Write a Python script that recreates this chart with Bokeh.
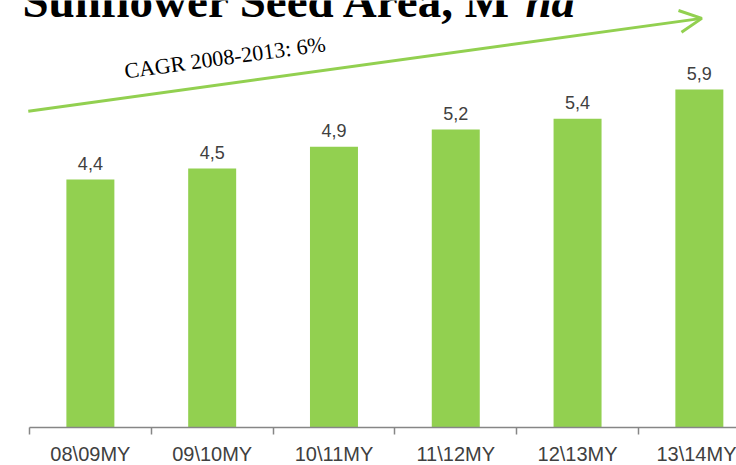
from bokeh.plotting import figure
from bokeh.models import Range1d, FixedTicker, Label, Arrow, OpenHead
from bokeh.core.properties import value
from bokeh.embed import file_html
from bokeh.resources import INLINE

# ---- data ----
categories = ["08\\09MY", "09\\10MY", "10\\11MY", "11\\12MY", "12\\13MY", "13\\14MY"]
area = [4.33, 4.52, 4.90, 5.20, 5.39, 5.90]
value_labels = ["4,4", "4,5", "4,9", "5,2", "5,4", "5,9"]
title_main = "Sunflower Seed Area, M"
title_unit = "ha"
cagr_text = "CAGR 2008-2013: 6%"

positions = list(range(1, len(categories) + 1))
boundaries = [p - 0.5 for p in positions]

GREEN = "#92D050"
GREY = "#868686"
TEXT = "#404040"

p = figure(width=736, height=465,
           x_range=Range1d(0.262, 6.305), y_range=Range1d(-0.663, 7.452),
           output_backend="svg", toolbar_location=None, min_border=0,
           y_axis_location=None)
p.outline_line_color = None
p.xgrid.visible = False
p.ygrid.visible = False
p.background_fill_color = "white"
p.border_fill_color = "white"

p.vbar(x=positions, top=area, bottom=0, width=0.394, fill_color=GREEN, line_color=None)
p.text(x=positions, y=area, text=value_labels, text_align="center",
       text_baseline="alphabetic", y_offset=-16,
       text_font=value("Liberation Sans"), text_font_size="18px", text_color=TEXT)

ax = p.xaxis[0]
ax.ticker = FixedTicker(ticks=positions, minor_ticks=boundaries)
ax.major_label_overrides = {x: c for x, c in zip(positions, categories)}
ax.fixed_location = 0
ax.bounds = (0.5, 7)
ax.axis_line_color = GREY
ax.axis_line_width = 1.5
ax.major_tick_line_color = None
ax.major_tick_in = 0
ax.major_tick_out = 0
ax.minor_tick_line_color = GREY
ax.minor_tick_line_width = 1.5
ax.minor_tick_in = 0
ax.minor_tick_out = 7
ax.major_label_standoff = 8
ax.major_label_text_font = "Liberation Sans"
ax.major_label_text_font_size = "20px"
ax.major_label_text_color = TEXT

# trend arrow and annotation
p.add_layout(Arrow(end=OpenHead(size=22, line_color=GREEN, line_width=3),
                   x_start=0.49, y_start=5.52, x_end=6.02, y_end=7.14,
                   line_color=GREEN, line_width=3))
p.add_layout(Label(x=1.28, y=6.22, text=cagr_text, angle=0.136,
                   text_font="Liberation Serif", text_font_size="22px",
                   text_color="black", text_baseline="alphabetic"))

# title (cut at top as in original)
p.add_layout(Label(x=0.4425, y=7.45, text=title_main,
                   text_font="Liberation Serif", text_font_size="47px",
                   text_font_style="bold", text_color="black", text_baseline="alphabetic"))
p.add_layout(Label(x=4.572, y=7.45, text=title_unit,
                   text_font="Liberation Serif", text_font_size="47px",
                   text_font_style="bold italic", text_color="black", text_baseline="alphabetic"))

open("out.html", "w").write(file_html(p, INLINE))
